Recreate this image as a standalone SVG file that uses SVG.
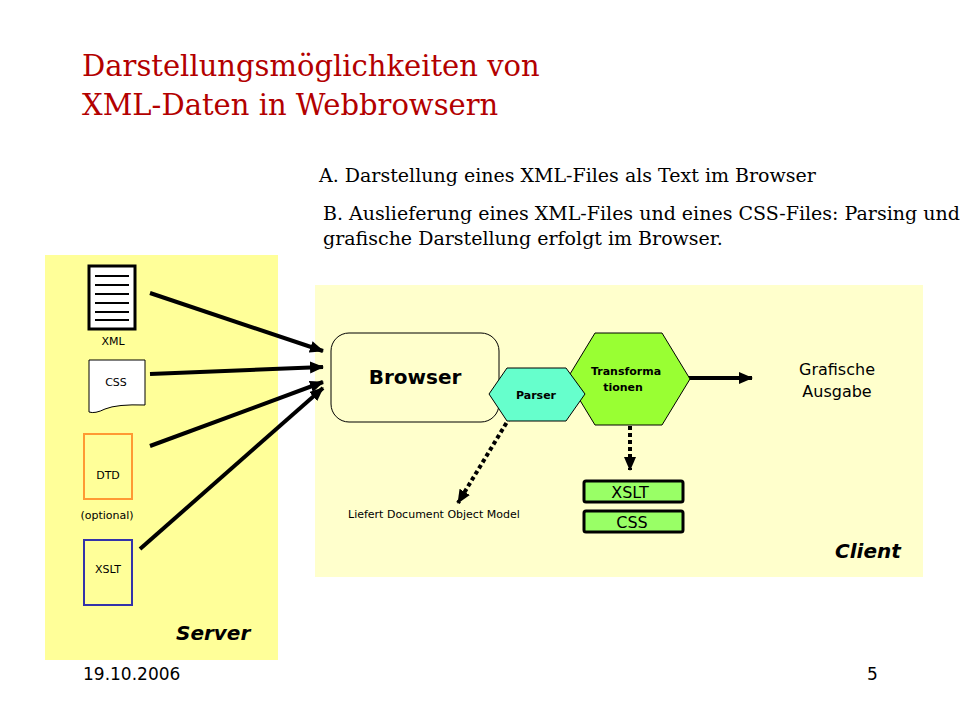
<svg xmlns="http://www.w3.org/2000/svg" width="960" height="720" viewBox="0 0 960 720">
<defs><marker id="a" markerUnits="userSpaceOnUse" markerWidth="14" markerHeight="12" refX="13" refY="6" orient="auto-start-reverse"><path d="M0 0L14 6L0 12z" fill="#000"/></marker></defs>
<style>text{font-family:"DejaVu Sans",Verdana,sans-serif;fill:#000}.s{font-family:"DejaVu Serif","Liberation Serif",serif}.l{font-size:11px}.c{text-anchor:middle}.b{font-weight:bold;font-style:italic;font-size:20px}.w{stroke:#000;stroke-width:4;fill:none}</style>
<rect width="960" height="720" fill="#fff"/>
<rect x="45" y="255" width="233" height="405" fill="#ffff99"/>
<rect x="315" y="285" width="608" height="292" fill="#ffffcc"/>
<text class="s" x="82" y="76" font-size="29" style="fill:#b30000">Darstellungsmöglichkeiten von</text>
<text class="s" x="82" y="115" font-size="29" style="fill:#b30000">XML-Daten in Webbrowsern</text>
<text class="s" x="319" y="182" font-size="19">A. Darstellung eines XML-Files als Text im Browser</text>
<text class="s" x="323" y="220" font-size="19">B. Auslieferung eines XML-Files und eines CSS-Files: Parsing und</text>
<text class="s" x="323" y="245" font-size="19">grafische Darstellung erfolgt im Browser.</text>
<g id="connectors">
<path class="w" d="M150 293L323 351" marker-end="url(#a)"/>
<path class="w" d="M150 374L323 367" marker-end="url(#a)"/>
<path class="w" d="M150 446L323 382" marker-end="url(#a)"/>
<path class="w" d="M140 549L323 388" marker-end="url(#a)"/>
<path class="w" d="M688 378H752" marker-end="url(#a)"/>
<path class="w" stroke-dasharray="4 3" d="M510 417L458 503" marker-end="url(#a)"/>
<path class="w" stroke-dasharray="4 3" d="M630 405V470" marker-start="url(#a)" marker-end="url(#a)"/>
</g>
<g id="xml"><rect x="89" y="266" width="46" height="63" fill="#fff" stroke="#000" stroke-width="3"/><path d="M95 276H129M95 285H129M95 294H129M95 303H129M95 312H129M95 320H129" stroke="#000" stroke-width="2"/><text class="l c" x="113" y="345">XML</text></g>
<g id="css"><path d="M89 360H145V405Q117 404 105 409Q95 414 89 412Z" fill="#fff" stroke="#000"/><text class="l c" x="116" y="386">CSS</text></g>
<g id="dtd"><rect x="84" y="434" width="48" height="65" fill="none" stroke="#ff9933" stroke-width="2"/><text class="l c" x="108" y="479">DTD</text><text class="l c" x="107" y="519">(optional)</text></g>
<g id="xslt-doc"><rect x="84" y="540" width="48" height="65" fill="none" stroke="#3333aa" stroke-width="2"/><text class="l c" x="108" y="573">XSLT</text></g>
<text class="b" x="176" y="640">Server</text>
<g id="browser"><rect x="331" y="333" width="168" height="89" rx="18" fill="#ffffcc" stroke="#000"/><text class="c" x="415" y="384" font-size="20" font-weight="bold">Browser</text></g>
<g id="transform"><path d="M595 333H662L690 379L662 425H595L567 379Z" fill="#99ff33" stroke="#000"/><text class="c" x="626" y="375" font-size="11" font-weight="bold">Transforma</text><text class="c" x="623" y="391" font-size="11" font-weight="bold">tionen</text></g>
<g id="parser"><path d="M507 368H566L585 394L566 421H507L489 394Z" fill="#66ffcc" stroke="#000"/><text class="c" x="536" y="399" font-size="11" font-weight="bold">Parser</text></g>
<g id="ausgabe"><text class="c" x="837" y="375" font-size="16">Grafische</text><text class="c" x="837" y="397" font-size="16">Ausgabe</text></g>
<text class="l" x="348" y="518">Liefert Document Object Model</text>
<g id="xslt"><rect x="584" y="481" width="99" height="21" rx="2" fill="#99ff66" stroke="#000" stroke-width="3"/><text class="c" x="630" y="498" font-size="16">XSLT</text></g>
<g id="cssbox"><rect x="584" y="511" width="99" height="21" rx="2" fill="#99ff66" stroke="#000" stroke-width="3"/><text class="c" x="632" y="528" font-size="16">CSS</text></g>
<text class="b" x="835" y="558">Client</text>
<text x="83" y="680" font-size="17">19.10.2006</text>
<text x="867" y="680" font-size="17">5</text>
</svg>
